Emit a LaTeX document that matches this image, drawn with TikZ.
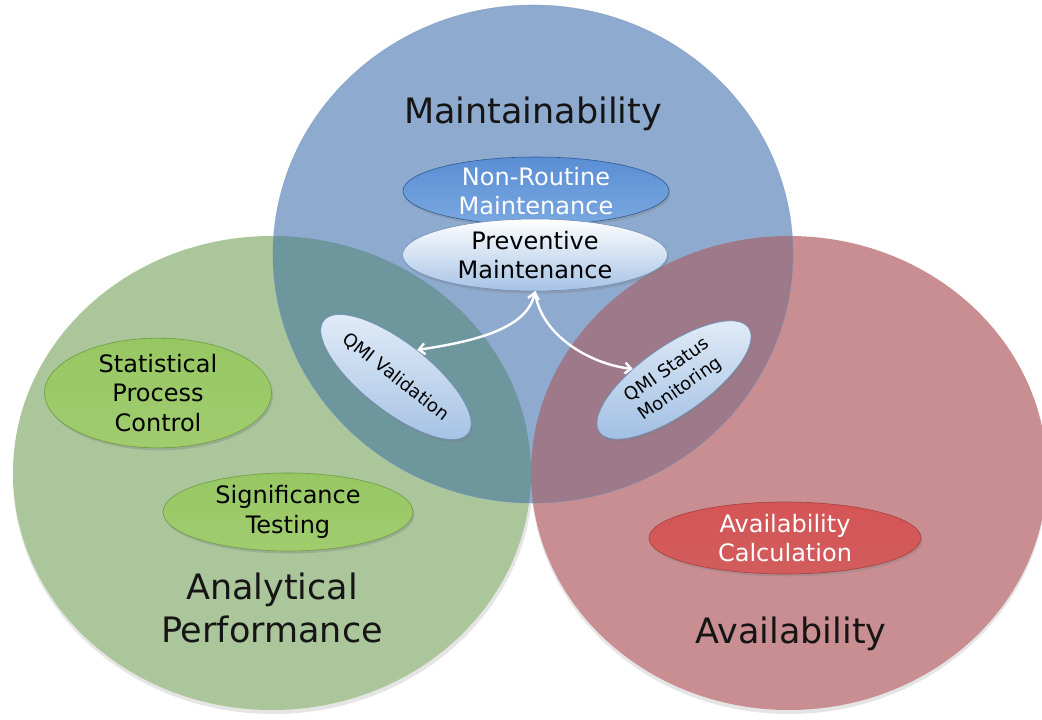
\documentclass[tikz,border=0pt]{standalone}
\usepackage{fontspec}
\setmainfont{DejaVu Sans}
\usetikzlibrary{shapes.geometric, arrows.meta, shadows}
\definecolor{bluec}{HTML}{8EAACE}
\definecolor{greenc}{HTML}{AAC69A}
\definecolor{redc}{HTML}{C98E92}
\definecolor{tealc}{HTML}{6D969D}
\definecolor{mauvec}{HTML}{9E798A}
\definecolor{titlec}{HTML}{151515}
\definecolor{nrtop}{HTML}{5A8ED4}
\definecolor{nrmid}{HTML}{3370BE}
\definecolor{nrbot}{HTML}{7AA8E0}
\definecolor{pbdraw}{HTML}{6E8FB8}
\definecolor{pbmid}{HTML}{D6E4F4}
\definecolor{pbbot}{HTML}{A6C3E5}
\definecolor{qtop}{HTML}{E4EEF9}
\definecolor{qbot}{HTML}{A3C0E3}
\definecolor{gdraw}{HTML}{6E9A45}
\definecolor{gtop}{HTML}{97C763}
\definecolor{gmid}{HTML}{B0D888}
\definecolor{gbot}{HTML}{A0CC6E}
\definecolor{rdraw}{HTML}{A8403F}
\definecolor{rtop}{HTML}{D45556}
\definecolor{rmid}{HTML}{E06F6E}
\definecolor{rbot}{HTML}{D25C5C}
\definecolor{nrdraw}{HTML}{2D5A96}
\begin{document}
\begin{tikzpicture}[x=1pt,y=-1pt,
  bubble/.style={ellipse, inner sep=0pt, align=center, line width=0.6pt,
    drop shadow={opacity=0.35, shadow xshift=1.5pt, shadow yshift=-2.5pt}},
  darkblue/.style={bubble, draw=nrdraw, top color=nrtop, middle color=nrmid, bottom color=nrbot, text=white},
  paleblue/.style={bubble, draw=pbdraw, top color=white, middle color=pbmid, bottom color=pbbot, text=black},
  qmi/.style={bubble, draw=pbdraw, top color=qtop, bottom color=qbot, text=black},
  greenb/.style={bubble, draw=gdraw, top color=gtop, middle color=gmid, bottom color=gbot, text=black},
  redb/.style={bubble, draw=rdraw, top color=rtop, middle color=rmid, bottom color=rbot, text=white},
  title/.style={text=titlec, font=\fontsize{35}{43}\selectfont, align=center},
  lbl/.style={font=\fontsize{24}{29.5}\selectfont},
  slbl/.style={font=\fontsize{18}{23}\selectfont},
  arr/.style={white, line width=2.4pt},
]
\fill[white] (0,0) rectangle (1042,720);
\useasboundingbox (0,0) rectangle (1042,720);
\begin{scope}
\clip (0,0) rectangle (1042,720);
% soft shadows
\fill[black, opacity=0.10] (273,477) ellipse [x radius=260, y radius=237];
\fill[black, opacity=0.10] (789,477) ellipse [x radius=258, y radius=237];
% circles
\fill[greenc] (272,473) ellipse [x radius=259, y radius=237];
\fill[redc] (789,473) ellipse [x radius=258, y radius=237];
\fill[bluec] (533,254) ellipse [x radius=260, y radius=249];
\begin{scope}
\clip (533,254) ellipse [x radius=260, y radius=249];
\fill[tealc] (272,473) ellipse [x radius=259, y radius=237];
\fill[mauvec] (789,473) ellipse [x radius=258, y radius=237];
\end{scope}
\draw[pbdraw, opacity=0.5, line width=0.6pt] (533,254) ellipse [x radius=260, y radius=249];
\end{scope}

% titles
\node[title, anchor=base] (tmain) at (533,123) {Maintainability};
\node[title] (tana) at (272,608) {Analytical\\Performance};
\node[title, anchor=base] (tavail) at (791,643) {Availability};

% bubbles
\node[darkblue, lbl, minimum width=266pt, minimum height=64pt] (nonr) at (536,191) {Non-Routine\\Maintenance};
\node[paleblue, lbl, minimum width=265pt, minimum height=72pt] (prev) at (535,255) {Preventive\\Maintenance};
\node[qmi, slbl, minimum width=182pt, minimum height=68pt, rotate=-38] (qv) at (396,377) {QMI Validation};
\node[qmi, slbl, minimum width=182pt, minimum height=68pt, rotate=35] (qs) at (674,380) {QMI Status\\Monitoring};
\node[greenb, lbl, minimum width=227pt, minimum height=100pt] (spc) at (158,393) {Statistical\\Process\\Control};
\node[greenb, lbl, minimum width=250pt, minimum height=78pt] (sig) at (288,512) {Significance\\Testing};
\node[redb, lbl, minimum width=272pt, minimum height=72pt] (acalc) at (785,538) {Availability\\Calculation};

% arrows
\draw[arr, {Straight Barb[length=6pt,width=11pt]}-{Straight Barb[length=6pt,width=11pt]}] (prev.south) .. controls (527,330) and (470,342) .. (qv.north);
\draw[arr, -{Straight Barb[length=6pt,width=11pt]}] (prev.south) .. controls (540,335) and (590,364) .. (qs.130);
\end{tikzpicture}
\end{document}
